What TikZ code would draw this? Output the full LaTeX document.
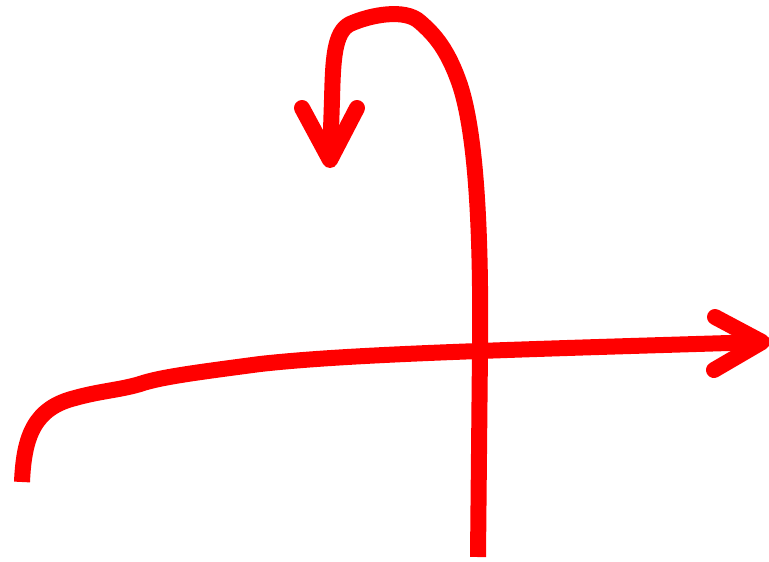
\documentclass[tikz,border=0pt]{standalone}
\begin{document}
\begin{tikzpicture}[x=1pt,y=-1pt,
  stroke/.style={draw=red,line width=16pt,line join=round},
  barb/.style={draw=red,line width=16pt,line cap=round,line join=round}]
\useasboundingbox (0,0) rectangle (769,562);
% horizontal stroke
\coordinate (hs) at (22,482);
\coordinate (ht) at (762,342);
\draw[stroke] (hs) .. controls (24,435) and (35,408) .. (75,398)
  .. controls (100,391) and (120,390) .. (140,384)
  .. controls (160,377) and (200,372) .. (260,364)
  .. controls (350,354) and (500,350) .. (ht);
\draw[barb] (715,317) -- (ht) -- (714,370);
% vertical stroke with hook
\coordinate (vs) at (478,557);
\coordinate (vt) at (330,160);
\draw[stroke] (vs) -- (480,350) .. controls (481,250) and (478,140) .. (460,85)
  .. controls (448,50) and (435,35) .. (420,22)
  .. controls (405,8) and (370,15) .. (350,24)
  .. controls (334,32) and (333,60) .. (332,100) -- (vt);
\draw[barb] (302,108) -- (vt) -- (357,108);
\end{tikzpicture}
\end{document}
